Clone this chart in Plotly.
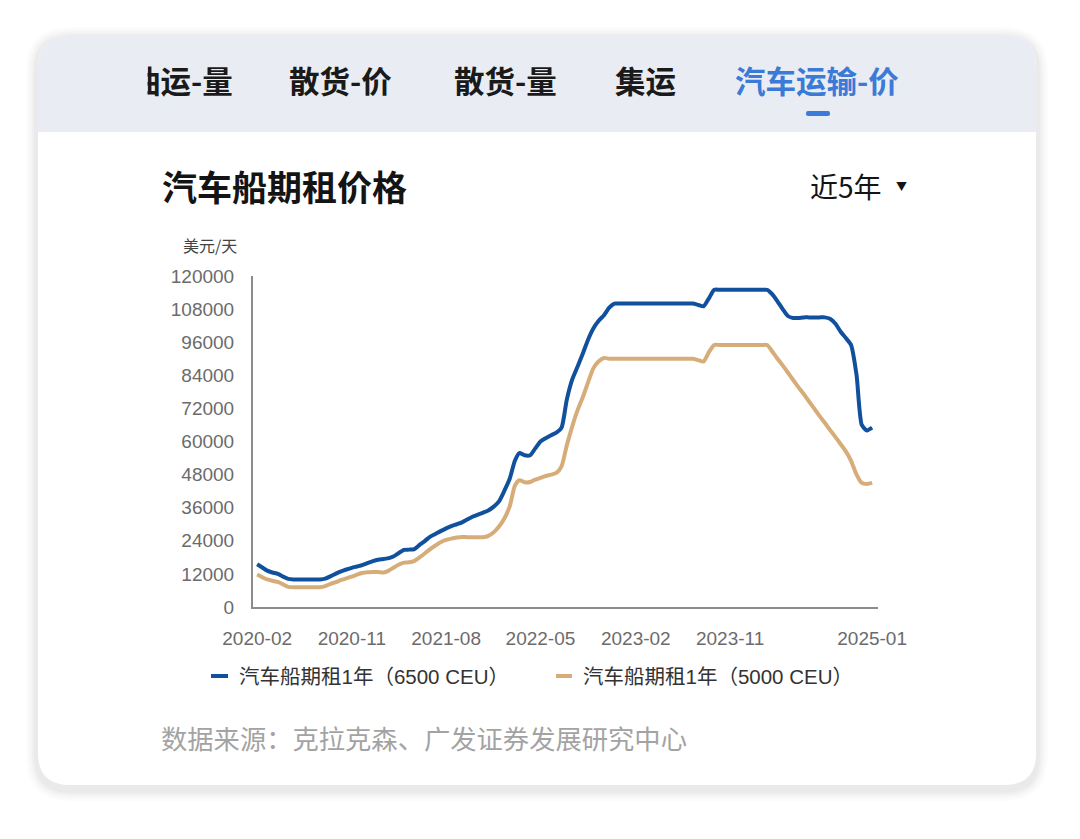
import plotly.graph_objects as go

# ---------------- data ----------------
tick_labels = ["2020-02", "2020-11", "2021-08", "2022-05", "2023-02", "2023-11", "2025-01"]
y_ticks = [0, 12000, 24000, 36000, 48000, 60000, 72000, 84000, 96000, 108000, 120000]

dates = []
for yr in range(2020, 2025):
    for mo in range(1, 13):
        if yr == 2020 and mo < 2:
            continue
        dates.append(f"{yr}-{mo:02d}-01")
        dates.append(f"{yr}-{mo:02d}-16")

ceu6500 = [
    15500, 14300, 13200, 12500, 12000, 11000, 10200, 10000,
    10000, 10000, 10000, 10000, 10000, 10300, 11200, 12100,
    12900, 13600, 14200, 14700, 15200, 15900, 16600, 17100,
    17400, 17700, 18300, 19500, 20700, 20800, 21000, 22500,
    24000, 25500, 26500, 27500, 28500, 29300, 30000, 30700,
    31700, 32700, 33500, 34200, 35000, 36300, 38300, 42000,
    46500, 53000, 55800, 55000, 55000, 57500, 60000, 61200,
    62300, 63200, 65000, 75000, 82500, 87000, 92000, 97000,
    101000, 103700, 105800, 108500, 110000, 110000, 110000, 110000,
    110000, 110000, 110000, 110000, 110000, 110000, 110000, 110000,
    110000, 110000, 110000, 110000, 109500, 109000, 112000, 115000,
    115000, 115000, 115000, 115000, 115000, 115000, 115000, 115000,
    115000, 115000, 113500, 111000, 108000, 105500, 104800, 104800,
    105000, 105000, 105000, 105000, 105000, 104500, 102700, 99800,
    97500, 95000, 84000, 66000, 64000, 65000,
]

ceu5000 = [
    11800, 10800, 10000, 9500, 9100, 8200, 7300, 7200,
    7200, 7200, 7200, 7200, 7200, 7600, 8400, 9000,
    9800, 10400, 11000, 11700, 12300, 12600, 12700, 12700,
    12500, 13200, 14200, 15300, 16100, 16200, 16700, 18000,
    19500, 21000, 22300, 23500, 24300, 24800, 25200, 25400,
    25300, 25300, 25300, 25300, 25800, 27000, 29200, 32000,
    36500, 44000, 46000, 45200, 45300, 46200, 46800, 47500,
    48000, 48600, 51000, 58500, 65500, 71200, 76200, 81500,
    86500, 89000, 90300, 90000, 90000, 90000, 90000, 90000,
    90000, 90000, 90000, 90000, 90000, 90000, 90000, 90000,
    90000, 90000, 90000, 90000, 89500, 89000, 92500, 95000,
    95000, 95000, 95000, 95000, 95000, 95000, 95000, 95000,
    95000, 95000, 92800, 90200, 87600, 85000, 82400, 79800,
    77200, 74600, 72000, 69400, 66800, 64200, 61600, 59000,
    56400, 53000, 48000, 45000, 44600, 45000,
]

series_names = ["汽车船期租1年（6500 CEU）", "汽车船期租1年（5000 CEU）"]
tabs = ["油运-量", "散货-价", "散货-量", "集运", "汽车运输-价"]

# ---------------- geometry helpers ----------------
W, H = 1080, 839
L, R, T, B = 253, 878, 276, 607


def px(x):
    return (x - L) / (R - L)


def py(y):
    return (B - y) / (B - T)


def rrect(x0, y0, x1, y1, r, top=True, bottom=True):
    pts = []
    if top:
        pts.append(f"M{px(x0)},{py(y0 + r)}")
        pts.append(f"Q{px(x0)},{py(y0)} {px(x0 + r)},{py(y0)}")
        pts.append(f"L{px(x1 - r)},{py(y0)}")
        pts.append(f"Q{px(x1)},{py(y0)} {px(x1)},{py(y0 + r)}")
    else:
        pts.append(f"M{px(x0)},{py(y0)}")
        pts.append(f"L{px(x1)},{py(y0)}")
    if bottom:
        pts.append(f"L{px(x1)},{py(y1 - r)}")
        pts.append(f"Q{px(x1)},{py(y1)} {px(x1 - r)},{py(y1)}")
        pts.append(f"L{px(x0 + r)},{py(y1)}")
        pts.append(f"Q{px(x0)},{py(y1)} {px(x0)},{py(y1 - r)}")
    else:
        pts.append(f"L{px(x1)},{py(y1)}")
        pts.append(f"L{px(x0)},{py(y1)}")
    pts.append("Z")
    return " ".join(pts)


BLUE = "#11509c"
TAN = "#d6ad78"
CJK = "Noto Sans CJK SC"
LAT = "Liberation Sans, Noto Sans CJK SC"

fig = go.Figure()
fig.add_trace(go.Scatter(x=dates, y=ceu6500, mode="lines", name=series_names[0],
                         line=dict(color=BLUE, width=4, shape="spline", smoothing=0.6),
                         showlegend=False))
fig.add_trace(go.Scatter(x=dates, y=ceu5000, mode="lines", name=series_names[1],
                         line=dict(color=TAN, width=4, shape="spline", smoothing=0.6),
                         showlegend=False))

shapes = []
# card shadow
for i, a in enumerate([0.01, 0.012, 0.015, 0.018, 0.024]):
    g = 12 - 2 * i
    shapes.append(dict(type="path", xref="paper", yref="paper", layer="below",
                       path=rrect(38 - g, 35 - g + 4, 1036 + g, 785 + g + 4, 32 + g),
                       fillcolor=f"rgba(0,0,0,{a})", line=dict(width=0)))
# card
shapes.append(dict(type="path", xref="paper", yref="paper", layer="below",
                   path=rrect(38, 35, 1036, 785, 32), fillcolor="#ffffff", line=dict(width=0)))
# header band
shapes.append(dict(type="path", xref="paper", yref="paper", layer="below",
                   path=rrect(38, 35, 1036, 132, 32, top=True, bottom=False),
                   fillcolor="#e9edf3", line=dict(width=0)))
# active tab indicator
shapes.append(dict(type="path", xref="paper", yref="paper", layer="below",
                   path=rrect(806, 111, 830, 116, 2), fillcolor="#3b7ad6", line=dict(width=0)))
# legend swatches
shapes.append(dict(type="line", xref="paper", yref="paper", x0=px(211), x1=px(228),
                   y0=py(676), y1=py(676), line=dict(color=BLUE, width=4)))
shapes.append(dict(type="line", xref="paper", yref="paper", x0=px(556), x1=px(572),
                   y0=py(676), y1=py(676), line=dict(color=TAN, width=4)))

ann = []


def text(x, y, s, size, color, anchor="center", family=CJK, weight="normal", **kw):
    ann.append(dict(x=px(x), y=py(y), xref="paper", yref="paper", text=s, showarrow=False,
                    xanchor=anchor, yanchor="middle",
                    font=dict(family=family, size=size, color=color, weight=weight), **kw))


# tabs
text(235, 80, tabs[0], 30.5, "#1a1a1a", anchor="right", weight="bold")
# cover for clipped first tab
ann.append(dict(x=px(97), y=py(80), xref="paper", yref="paper", text=" ", showarrow=False,
                xanchor="center", yanchor="middle", width=100, height=56,
                bgcolor="#e9edf3", borderpad=0, font=dict(size=10)))
text(340.5, 80, tabs[1], 30.5, "#1a1a1a", weight="bold")
text(505.5, 80, tabs[2], 30.5, "#1a1a1a", weight="bold")
text(645, 80, tabs[3], 30.5, "#1a1a1a", weight="bold")
text(816.5, 80, tabs[4], 30.5, "#3b7ad6", weight="bold")

# title row
text(160, 185, "汽车船期租价格", 35, "#141414", anchor="left", weight="bold")
text(808, 186, "近5年", 28, "#141414", anchor="left")
text(901, 186, "▼", 11, "#141414")
text(209.5, 245, "美元/天", 16, "#444444")

# legend
text(237, 676, series_names[0], 20.5, "#333333", anchor="left", family=LAT)
text(581, 676, series_names[1], 20.5, "#333333", anchor="left", family=LAT)

# source
text(159, 737, "数据来源：克拉克森、广发证券发展研究中心", 26.3, "#a3a3a3", anchor="left")

tick_dates = ["2020-02-01", "2020-11-01", "2021-08-01", "2022-05-01", "2023-02-01", "2023-11-01", dates[-1]]

fig.update_layout(
    width=W, height=H,
    margin=dict(l=L, r=W - R, t=T, b=H - B, pad=0),
    paper_bgcolor="#ffffff", plot_bgcolor="rgba(0,0,0,0)",
    shapes=shapes, annotations=ann, showlegend=False,
    xaxis=dict(type="date", range=["2020-01-20", "2025-01-02"], showgrid=False, zeroline=False,
               showline=True, linecolor="#8c8c8c", linewidth=2, ticks="",
               tickvals=tick_dates, ticktext=tick_labels, ticklabelstandoff=13,
               tickfont=dict(family=LAT, size=19, color="#6b6b6b")),
    yaxis=dict(range=[0, 120000], showgrid=False, zeroline=False, showline=True,
               linecolor="#8c8c8c", linewidth=2, ticks="", tickvals=y_ticks,
               ticktext=[str(v) for v in y_ticks], ticklabelstandoff=13,
               tickfont=dict(family=LAT, size=19, color="#6b6b6b")),
)

fig.write_html("out.html")
